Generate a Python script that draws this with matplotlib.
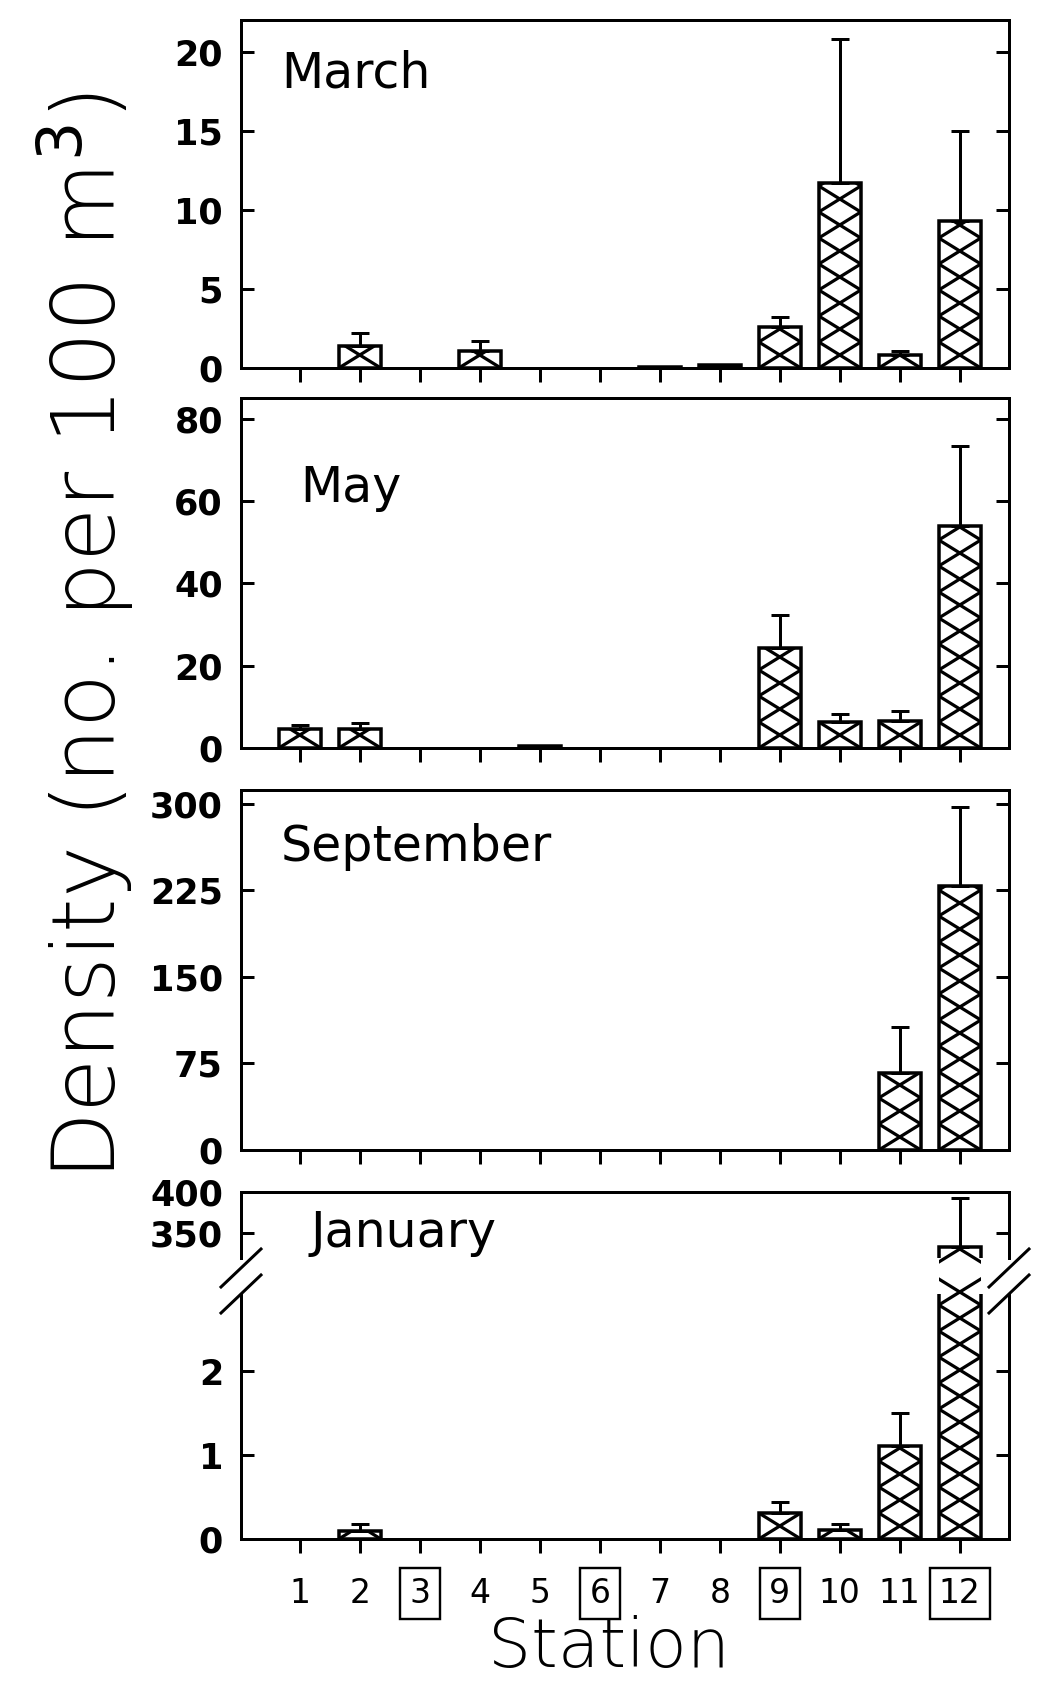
import matplotlib.pyplot as plt
import numpy as np

# station densities (mean and upper error) for each sampling month
stations = np.arange(1, 13)
boxed_stations = [3, 6, 9, 12]

march_mean = [0, 1.4, 0, 1.1, 0, 0, 0.08, 0.2, 2.6, 11.7, 0.8, 9.3]
march_err = [0, 0.8, 0, 0.6, 0, 0, 0, 0, 0.6, 9.1, 0.3, 5.7]

may_mean = [4.6, 4.5, 0, 0, 0.4, 0, 0, 0, 24.4, 6.3, 6.6, 54.0]
may_err = [1.0, 1.5, 0, 0, 0, 0, 0, 0, 8.0, 1.9, 2.3, 19.3]

sep_mean = [0, 0, 0, 0, 0, 0, 0, 0, 0, 0, 66.5, 229.0]
sep_err = [0, 0, 0, 0, 0, 0, 0, 0, 0, 0, 40.5, 68.0]

jan_mean = [0, 0.1, 0, 0, 0, 0, 0, 0, 0.31, 0.11, 1.11, 333.0]
jan_err = [0, 0.08, 0, 0, 0, 0, 0, 0, 0.13, 0.07, 0.39, 60.0]

W, H, DPI = 1038, 1682, 200
PT = 72 / DPI  # points per output pixel

plt.rcParams['font.family'] = ['DejaVu Sans']


def box(left, top, right, bottom):
    return [left / W, 1 - bottom / H, (right - left) / W, (bottom - top) / H]


def cross_hatch(ax, bars, cell_px=26):
    # one column of X's per bar, each X as wide as the bar
    y_lo, y_hi = ax.get_ylim()
    d = cell_px * (y_hi - y_lo) / (ax.get_position().height * H)
    for rect in bars:
        x0, w = rect.get_x(), rect.get_width()
        y0, top = rect.get_y(), rect.get_y() + rect.get_height()
        lo, hi = max(y0, y_lo), min(top, y_hi)
        if hi <= lo:
            continue
        k = np.arange(np.floor((lo - y0) / d), np.ceil((hi - y0) / d) + 1)
        ys = y0 + k * d
        even = k % 2 == 0
        for xs in (np.where(even, x0, x0 + w), np.where(even, x0 + w, x0)):
            line, = ax.plot(xs, ys, color='black', lw=3.2 * PT,
                            solid_joinstyle='miter', zorder=2.5)
            line.set_clip_path(rect)


def draw_bars(ax, mean, err):
    mean = np.asarray(mean, dtype=float)
    err = np.asarray(err, dtype=float)
    on = mean > 0
    bars = ax.bar(stations[on], mean[on], width=0.7, color='white',
                  edgecolor='black', linewidth=3.5 * PT, zorder=2)
    cross_hatch(ax, bars)
    up = err > 0
    ax.errorbar(stations[up], mean[up], yerr=[np.zeros(up.sum()), err[up]],
                fmt='none', ecolor='black', elinewidth=3 * PT,
                capsize=9 * PT, capthick=3 * PT, zorder=3)


def style(ax, ylim, yticks):
    ax.set_xlim(0.02, 12.82)
    ax.set_ylim(*ylim)
    ax.set_yticks(yticks, [str(v) for v in yticks], fontweight='bold')
    ax.set_xticks(stations)
    ax.tick_params(axis='y', direction='in', length=13 * PT, width=3 * PT,
                   right=True, labelsize=35 * PT, pad=18 * PT)
    ax.tick_params(axis='x', direction='out', length=14 * PT, width=3 * PT,
                   labelbottom=False)
    for sp in ax.spines.values():
        sp.set_linewidth(3 * PT)


fig = plt.figure(figsize=(W / DPI, H / DPI), dpi=DPI)

L, R = 241, 1009

ax_mar = fig.add_axes(box(L, 20, R, 368))
style(ax_mar, (0, 22), [0, 5, 10, 15, 20])
draw_bars(ax_mar, march_mean, march_err)

ax_may = fig.add_axes(box(L, 398, R, 748))
style(ax_may, (0, 85), [0, 20, 40, 60, 80])
draw_bars(ax_may, may_mean, may_err)

ax_sep = fig.add_axes(box(L, 790, R, 1150))
style(ax_sep, (0, 312), [0, 75, 150, 225, 300])
draw_bars(ax_sep, sep_mean, sep_err)

# January uses a broken y axis
ax_jan_top = fig.add_axes(box(L, 1192, R, 1258))
style(ax_jan_top, (320, 400), [350, 400])
draw_bars(ax_jan_top, jan_mean, jan_err)
ax_jan_top.spines['bottom'].set_visible(False)
ax_jan_top.tick_params(axis='x', bottom=False)

ax_jan = fig.add_axes(box(L, 1294, R, 1539))
style(ax_jan, (0, 2.92), [0, 1, 2])
draw_bars(ax_jan, jan_mean, jan_err)
ax_jan.spines['top'].set_visible(False)
ax_jan.set_xticks(stations, [str(s) for s in stations], fontsize=33 * PT)
ax_jan.tick_params(axis='x', labelbottom=True, pad=24 * PT)
for lab, s in zip(ax_jan.get_xticklabels(), stations):
    if s in boxed_stations:
        lab.set_bbox(dict(boxstyle='square,pad=0.28', fc='none', ec='black',
                          lw=2.4 * PT))

# break marks on both sides
for ax, yend in ((ax_jan_top, 0), (ax_jan, 1)):
    bb = ax.get_position()
    dx = 20 / (bb.width * W)
    dy = 19 / (bb.height * H)
    off = -10 / (bb.height * H) if yend == 0 else 0
    for xend in (0, 1):
        ax.plot([xend - dx, xend + dx], [yend + off - dy, yend + off + dy],
                transform=ax.transAxes, color='black', lw=3 * PT,
                clip_on=False, zorder=5)

# month names inside each panel
for name, x, y in (('March', 281, 73), ('May', 300, 488),
                   ('September', 281, 847), ('January', 311, 1233)):
    fig.text(x / W, 1 - y / H, name, fontsize=49 * PT, ha='left', va='center')

fig.text(86 / W, 1 - 636 / H, 'Density (no. per 100 m$^3$)', rotation=90,
         ha='center', va='center', fontsize=88 * PT, fontweight='light')
fig.text(609 / W, 1 - 1667 / H, 'Station', ha='center', va='baseline',
         fontsize=68 * PT, fontweight='light')

fig.savefig('out.png', dpi=DPI, facecolor='white')
